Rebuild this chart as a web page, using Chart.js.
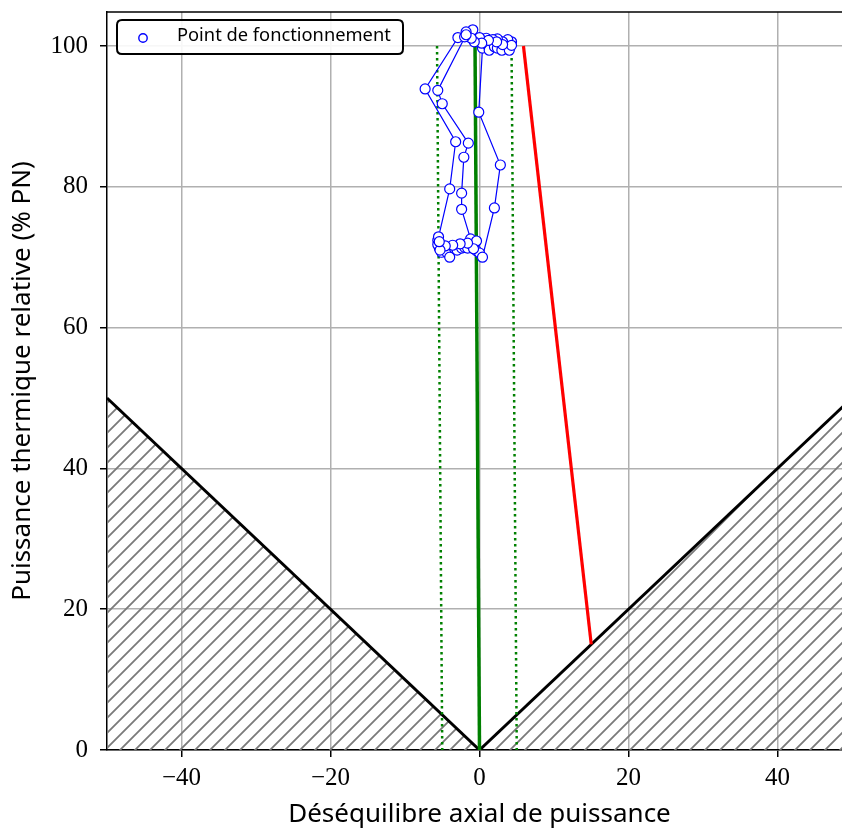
<!DOCTYPE html>
<html><head><meta charset="utf-8">
<script src="https://cdn.jsdelivr.net/npm/chart.js@4.4.0/dist/chart.umd.min.js"></script>
<style>html,body{margin:0;padding:0;overflow:hidden;background:#fff;width:842px;height:832px}canvas{display:block}</style>
</head><body>
<canvas id="c" width="870" height="832"></canvas>
<script>
// ---- data ----
const xTicks = [-40, -20, 0, 20, 40];
const xTickLabels = ['\u221240', '\u221220', '0', '20', '40'];
const yTicks = [0, 20, 40, 60, 80, 100];
const yTickLabels = ['0', '20', '40', '60', '80', '100'];

const trajX = [4.3, 3.8, 3.1, 2.4, 1.8, 0.9, 0.0, -0.9, -1.8, -2.9,
  -7.3, -3.2, -4.0,
  -5.6, -5.4, -5.4, -5.1, -4.4, -4.0, -3.4, -3.0, -2.4, -2.0, -1.6, -1.1, -0.7, -0.4, 0.0, 0.4,
  2.0, 2.8, -0.1,
  0.4, 1.1, 1.3, 2.0, 2.4, 3.0, 4.0, 4.3, 3.1, 2.3, 1.2, 0.3, -0.7, -1.1, -2.0, -1.8,
  -5.6, -5.0, -1.5, -2.1, -2.4, -2.4,
  -1.2, -0.4, -0.8, -1.6, -2.6, -3.6, -4.6, -5.5, -5.6, -5.3, -5.4];
const trajY = [100.6, 100.9, 100.6, 101.0, 100.9, 101.1, 101.2, 102.3, 102.0, 101.2,
  93.9, 86.4, 79.7,
  72.4, 72.0, 71.3, 70.7, 70.7, 70.0, 71.3, 71.0, 71.3, 71.4, 71.3, 71.8, 71.8, 70.9, 70.6, 70.0,
  77.0, 83.1, 90.6,
  99.7, 100.1, 99.4, 99.9, 99.7, 99.4, 99.4, 100.1, 100.2, 100.6, 100.8, 100.4, 100.6, 101.1, 101.3, 101.6,
  93.7, 91.8, 86.2, 84.2, 79.1, 76.8,
  72.6, 72.3, 71.2, 72.0, 71.9, 71.7, 71.6, 72.9, 71.8, 71.0, 72.2];

const limitLeftX = [-50, 0];
const limitLeftY = [50, 0];
const limitRightX = [0, 50];
const limitRightY = [0, 50];
const redX = [5.9, 15.0];
const redY = [100, 15];
const greenX = [-0.6, 0.0];
const greenY = [100, 0];
const dotLeftX = [-5.7, -5.0];
const dotLeftY = [100, 0];
const dotRightX = [4.3, 5.0];
const dotRightY = [100, 0];

const legendLabel = 'Point de fonctionnement';
const xTitle = 'Déséquilibre axial de puissance';
const yTitle = 'Puissance thermique relative (% PN)';

const pts = (xs, ys) => xs.map((x, i) => ({x: x, y: ys[i]}));

function makeHatch() {
  const s = 15;
  const c = document.createElement('canvas');
  c.width = s; c.height = s;
  const g = c.getContext('2d');
  g.strokeStyle = '#7a7a7a';
  g.lineWidth = 1.8;
  g.beginPath();
  g.moveTo(0, s); g.lineTo(s, 0);
  g.moveTo(-2, 2); g.lineTo(2, -2);
  g.moveTo(s - 2, s + 2); g.lineTo(s + 2, s - 2);
  g.stroke();
  return document.getElementById('c').getContext('2d').createPattern(c, 'repeat');
}
const hatch = makeHatch();

const framePlugin = {
  id: 'frame',
  afterDatasetsDraw(chart) {
    const ctx = chart.ctx, a = chart.chartArea;
    ctx.save();
    ctx.strokeStyle = '#000'; ctx.lineWidth = 1.5;
    ctx.beginPath(); ctx.moveTo(a.left, a.top); ctx.lineTo(a.right, a.top); ctx.stroke();
    // legend
    const bx = 117, by = 20, bw = 286, bh = 34, r = 5;
    ctx.fillStyle = 'rgba(255,255,255,0.9)';
    ctx.strokeStyle = '#000'; ctx.lineWidth = 2;
    ctx.beginPath();
    ctx.moveTo(bx + r, by); ctx.lineTo(bx + bw - r, by); ctx.quadraticCurveTo(bx + bw, by, bx + bw, by + r);
    ctx.lineTo(bx + bw, by + bh - r); ctx.quadraticCurveTo(bx + bw, by + bh, bx + bw - r, by + bh);
    ctx.lineTo(bx + r, by + bh); ctx.quadraticCurveTo(bx, by + bh, bx, by + bh - r);
    ctx.lineTo(bx, by + r); ctx.quadraticCurveTo(bx, by, bx + r, by);
    ctx.closePath(); ctx.fill(); ctx.stroke();
    ctx.beginPath(); ctx.arc(143, 38, 4.2, 0, Math.PI * 2);
    ctx.fillStyle = '#fff'; ctx.fill();
    ctx.strokeStyle = '#0000ff'; ctx.lineWidth = 1.4; ctx.stroke();
    ctx.fillStyle = '#000';
    ctx.font = '18.3px "Noto Sans"';
    ctx.textBaseline = 'middle';
    ctx.fillText(legendLabel, 177, 36);
    ctx.restore();
  }
};

new Chart(document.getElementById('c'), {
  type: 'scatter',
  data: {
    datasets: [
      {label: legendLabel, data: pts(trajX, trajY), showLine: true, borderColor: '#0000ff', borderWidth: 1.2,
       pointRadius: 5, pointBackgroundColor: '#ffffff', pointBorderColor: '#0000ff', pointBorderWidth: 1.2, order: 0},
      {label: 'red', data: pts(redX, redY), showLine: true, borderColor: '#ff0000', borderWidth: 3.2, pointRadius: 0, order: 1},
      {label: 'green', data: pts(greenX, greenY), showLine: true, borderColor: '#008000', borderWidth: 3.5, pointRadius: 0, order: 2},
      {label: 'dl', data: pts(dotLeftX, dotLeftY), showLine: true, borderColor: '#008000', borderWidth: 2.5, borderDash: [2.5, 3.5], pointRadius: 0, order: 3},
      {label: 'dr', data: pts(dotRightX, dotRightY), showLine: true, borderColor: '#008000', borderWidth: 2.5, borderDash: [2.5, 3.5], pointRadius: 0, order: 3},
      {label: 'vl', data: pts(limitLeftX, limitLeftY), showLine: true, borderColor: '#000', borderWidth: 3, pointRadius: 0,
       fill: 'origin', backgroundColor: hatch, order: 4},
      {label: 'vr', data: pts(limitRightX, limitRightY), showLine: true, borderColor: '#000', borderWidth: 3, pointRadius: 0,
       fill: 'origin', backgroundColor: hatch, order: 4}
    ]
  },
  options: {
    responsive: false, animation: false, devicePixelRatio: 1,
    layout: {padding: {left: 0, right: 18, top: 12, bottom: 0}},
    plugins: {legend: {display: false}, tooltip: {enabled: false}},
    scales: {
      x: {
        type: 'linear', min: -50, max: 50,
        afterFit: s => { s.height = 82; s.paddingLeft = 0; s.paddingRight = 0; },
        afterBuildTicks: s => { s.ticks = xTicks.map(v => ({value: v})); },
        ticks: {callback: (v, i) => xTickLabels[xTicks.indexOf(v)], color: '#000', padding: 6, maxRotation: 0,
                font: {family: "'Liberation Serif', serif", size: 25}},
        grid: {color: '#b0b0b0', lineWidth: 1.5, tickColor: '#000', tickLength: 7, tickWidth: 1.5},
        border: {color: '#000', width: 1.5},
        title: {display: true, text: xTitle, color: '#000', font: {family: "'Noto Sans', sans-serif", size: 26}, padding: {top: 0, bottom: 2}}
      },
      y: {
        type: 'linear', min: 0, max: 104.83,
        afterFit: s => { s.width = 107; s.paddingTop = 0; s.paddingBottom = 0; },
        afterBuildTicks: s => { s.ticks = yTicks.map(v => ({value: v})); },
        ticks: {callback: (v) => yTickLabels[yTicks.indexOf(v)], color: '#000', padding: 12,
                font: {family: "'Liberation Serif', serif", size: 25}},
        grid: {color: '#b0b0b0', lineWidth: 1.5, tickColor: '#000', tickLength: 7, tickWidth: 1.5},
        border: {color: '#000', width: 1.5},
        title: {display: true, text: yTitle, color: '#000', font: {family: "'Noto Sans', sans-serif", size: 26}, padding: {top: 7, bottom: 0}}
      }
    }
  },
  plugins: [framePlugin]
});
</script>
</body></html>
